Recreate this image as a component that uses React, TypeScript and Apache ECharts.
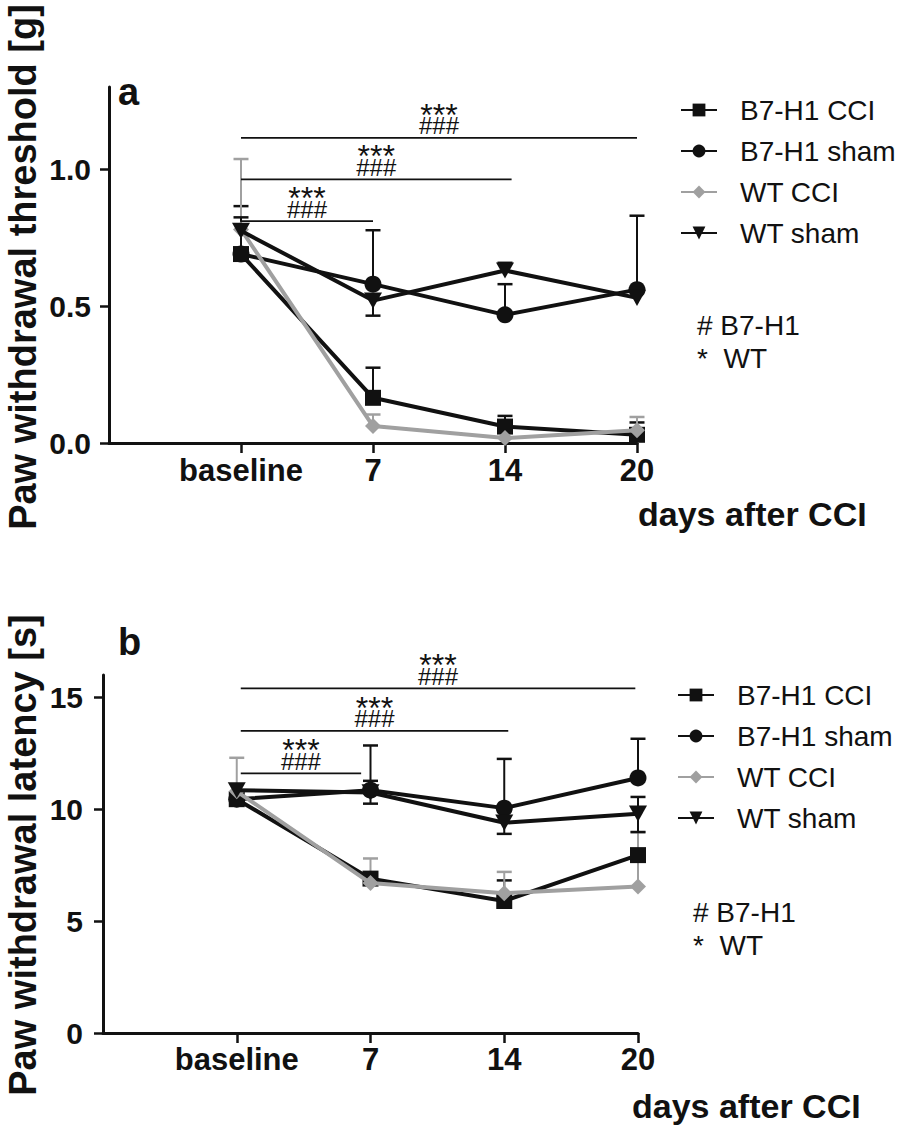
import React, { useEffect, useRef } from 'react';
import * as echarts from 'echarts';

const tickLabels = ['baseline', '7', '14', '20'];
const xPositions = [1, 2, 3, 4];
const seriesNames = ['B7-H1 CCI', 'B7-H1 sham', 'WT CCI', 'WT sham'];

// Panel a: paw withdrawal threshold [g]
const b7CciA = [0.69, 0.165, 0.06, 0.03];
const b7ShamA = [0.69, 0.58, 0.468, 0.56];
const wtCciA = [0.78, 0.062, 0.018, 0.047];
const wtShamA = [0.775, 0.52, 0.63, 0.53];
const b7CciUpA = [null, 0.275, 0.099, 0.075];
const b7ShamUpA = [0.865, 0.777, 0.58, 0.83];
const wtCciUpA = [1.037, 0.104, null, 0.095];
const wtShamUpA = [0.824, null, 0.658, null];
const wtShamDownA = [null, 0.465, null, null];
const yTicksA = [0, 0.5, 1.0];
const sigStartA = [1, 1, 1];
const sigEndA = [2, 3.05, 4];
const sigLevelA = [0.81, 0.963, 1.114];

// Panel b: paw withdrawal latency [s]
const b7CciB = [10.45, 6.9, 5.9, 7.95];
const b7ShamB = [10.45, 10.85, 10.05, 11.4];
const wtCciB = [10.8, 6.7, 6.25, 6.55];
const wtShamB = [10.85, 10.75, 9.4, 9.8];
const b7CciUpB = [null, null, 6.82, null];
const b7ShamUpB = [null, 12.85, 12.25, 13.15];
const wtCciUpB = [12.3, 7.8, 7.2, 8.98];
const wtShamUpB = [null, 11.27, null, 10.55];
const wtShamDownB = [null, 10.25, 8.9, 8.98];
const yTicksB = [0, 5, 10, 15];
const sigStartB = [1.03, 1.03, 1.03];
const sigEndB = [1.93, 3.03, 3.98];
const sigLevelB = [11.6, 13.5, 15.4];

const BLACK = '#111111';
const GRAY = '#a0a0a0';
const FONT = 'Liberation Sans, Arial, Helvetica, sans-serif';
const TRI_DOWN = 'path://M0,0 L10,0 L5,9 Z';

const symbols = ['rect', 'circle', 'diamond', TRI_DOWN];
const sizes = [16, 17, 16, 18];
const colors = [BLACK, BLACK, GRAY, BLACK];
const zOrder = [4, 3, 5, 6];

function pts(vals: number[]) {
  return xPositions.map((x, i) => [x, vals[i]]);
}

function errData(vals: number[], ends: (number | null)[], gray: number) {
  const out: number[][] = [];
  ends.forEach((e, i) => {
    if (e !== null) out.push([xPositions[i], vals[i], e, gray]);
  });
  return out;
}

function lineSeries(vals: number[][], idx: number) {
  return vals.map((v, k) => ({
    type: 'line',
    name: seriesNames[k],
    xAxisIndex: idx,
    yAxisIndex: idx,
    data: pts(v),
    symbol: symbols[k],
    symbolSize: sizes[k],
    symbolKeepAspect: true,
    showAllSymbol: true,
    lineStyle: { color: colors[k], width: 4 },
    itemStyle: { color: colors[k] },
    z: zOrder[k],
    emphasis: { disabled: true },
  }));
}

function errorSeries(data: number[][], idx: number) {
  return {
    type: 'custom',
    name: 'error',
    xAxisIndex: idx,
    yAxisIndex: idx,
    z: 2,
    data,
    encode: { x: 0, y: [1, 2] },
    renderItem: (params: any, api: any) => {
      const x = api.value(0);
      const p0 = api.coord([x, api.value(1)]);
      const p1 = api.coord([x, api.value(2)]);
      const c = api.value(3) ? GRAY : BLACK;
      return {
        type: 'group',
        children: [
          { type: 'line', shape: { x1: p0[0], y1: p0[1], x2: p1[0], y2: p1[1] }, style: { stroke: c, lineWidth: 2 } },
          { type: 'line', shape: { x1: p1[0] - 7.5, y1: p1[1], x2: p1[0] + 7.5, y2: p1[1] }, style: { stroke: c, lineWidth: 2.5 } },
        ],
      };
    },
  };
}

function sigSeries(starts: number[], ends: number[], levels: number[], idx: number) {
  return {
    type: 'custom',
    name: 'significance',
    xAxisIndex: idx,
    yAxisIndex: idx,
    z: 10,
    data: starts.map((s, i) => [s, ends[i], levels[i]]),
    encode: { x: [0, 1], y: 2 },
    renderItem: (params: any, api: any) => {
      const a = api.coord([api.value(0), api.value(2)]);
      const b = api.coord([api.value(1), api.value(2)]);
      const mx = (a[0] + b[0]) / 2;
      return {
        type: 'group',
        children: [
          { type: 'line', shape: { x1: a[0], y1: a[1], x2: b[0], y2: b[1] }, style: { stroke: BLACK, lineWidth: 1.8 } },
          {
            type: 'text',
            style: {
              text: '{s|***}\n{h|###}',
              x: mx,
              y: a[1] - 5,
              align: 'center',
              verticalAlign: 'bottom',
              fill: BLACK,
              rich: {
                s: { fontSize: 32, fontFamily: FONT, lineHeight: 8, fill: BLACK, align: 'center' },
                h: { fontSize: 24, fontFamily: FONT, lineHeight: 14, fill: BLACK, align: 'center' },
              },
            },
          },
        ],
      };
    },
  };
}

function xAxis(idx: number, margin: number) {
  return {
    type: 'value',
    gridIndex: idx,
    min: 0,
    max: 4,
    axisLine: { show: true, lineStyle: { color: BLACK, width: 3 } },
    axisTick: { show: true, length: 10, lineStyle: { color: BLACK, width: 2.5 }, customValues: xPositions },
    axisLabel: {
      customValues: xPositions,
      formatter: (v: number) => tickLabels[Math.round(v) - 1] ?? '',
      fontSize: 31,
      fontWeight: 'bold',
      fontFamily: FONT,
      color: BLACK,
      margin,
    },
    splitLine: { show: false },
  };
}

function yAxis(idx: number, max: number, ticks: number[], digits: number, margin: number) {
  return {
    type: 'value',
    gridIndex: idx,
    min: 0,
    max,
    axisLine: { show: true, lineStyle: { color: BLACK, width: 3 } },
    axisTick: { show: true, length: 9, lineStyle: { color: BLACK, width: 2.5 }, customValues: ticks },
    axisLabel: {
      customValues: ticks,
      formatter: (v: number) => v.toFixed(digits),
      fontSize: 30,
      fontWeight: 'bold',
      fontFamily: FONT,
      color: BLACK,
      margin,
    },
    splitLine: { show: false },
  };
}

function legend(top: number, left: number) {
  return {
    data: seriesNames,
    orient: 'vertical',
    left,
    top,
    padding: 0,
    itemWidth: 36,
    itemHeight: 16,
    itemGap: 11,
    selectedMode: false,
    textStyle: { fontSize: 28, fontFamily: FONT, color: BLACK, lineHeight: 30, padding: [0, 0, 0, 18] },
  };
}

function txt(text: string, x: number, y: number, font: string, extra: any = {}) {
  return {
    type: 'text',
    x,
    y,
    ...extra,
    style: { text, font, fill: BLACK, align: 'left', verticalAlign: 'middle', ...(extra.style || {}) },
  };
}

export default function App() {
  const ref = useRef<HTMLDivElement>(null);
  useEffect(() => {
    document.body.style.margin = '0';
    if (!ref.current) return;
    const chart = echarts.init(ref.current, null, { renderer: 'svg' });
    const valsA = [b7CciA, b7ShamA, wtCciA, wtShamA];
    const valsB = [b7CciB, b7ShamB, wtCciB, wtShamB];
    const errA = [
      ...errData(b7CciA, b7CciUpA, 0),
      ...errData(b7ShamA, b7ShamUpA, 0),
      ...errData(wtCciA, wtCciUpA, 1),
      ...errData(wtShamA, wtShamUpA, 0),
      ...errData(wtShamA, wtShamDownA, 0),
    ];
    const errB = [
      ...errData(b7CciB, b7CciUpB, 0),
      ...errData(b7ShamB, b7ShamUpB, 0),
      ...errData(wtCciB, wtCciUpB, 1),
      ...errData(wtShamB, wtShamUpB, 0),
      ...errData(wtShamB, wtShamDownB, 0),
    ];
    const bold38 = 'bold 38px ' + FONT;
    chart.setOption({
      animation: false,
      backgroundColor: '#ffffff',
      grid: [
        { left: 109, top: 87, width: 528, height: 356 },
        { left: 103, top: 675, width: 535, height: 358 },
      ],
      xAxis: [xAxis(0, 12), xAxis(1, 11)],
      yAxis: [yAxis(0, 1.3, yTicksA, 1, 18), yAxis(1, 16, yTicksB, 0, 20)],
      legend: [legend(95, 680), legend(680, 677)],
      series: [
        errorSeries(errA, 0),
        ...lineSeries(valsA, 0),
        sigSeries(sigStartA, sigEndA, sigLevelA, 0),
        errorSeries(errB, 1),
        ...lineSeries(valsB, 1),
        sigSeries(sigStartB, sigEndB, sigLevelB, 1),
      ],
      graphic: [
        txt('Paw withdrawal threshold [g]', 23, 267, bold38, { rotation: Math.PI / 2, style: { align: 'center' } }),
        txt('Paw withdrawal latency [s]', 23, 855, bold38, { rotation: Math.PI / 2, style: { align: 'center' } }),
        txt('a', 118, 92, 'bold 38px ' + FONT),
        txt('b', 118, 642, 'bold 38px ' + FONT),
        txt('days after CCI', 638, 514, 'bold 34px ' + FONT),
        txt('days after CCI', 632, 1106, 'bold 34px ' + FONT),
        txt('# B7-H1', 697, 325, '28px ' + FONT),
        txt('*  WT', 697, 358, '28px ' + FONT),
        txt('# B7-H1', 693, 912, '28px ' + FONT),
        txt('*  WT', 693, 945, '28px ' + FONT),
      ],
    });
    return () => chart.dispose();
  }, []);
  return <div ref={ref} style={{ width: 898, height: 1126 }} />;
}
